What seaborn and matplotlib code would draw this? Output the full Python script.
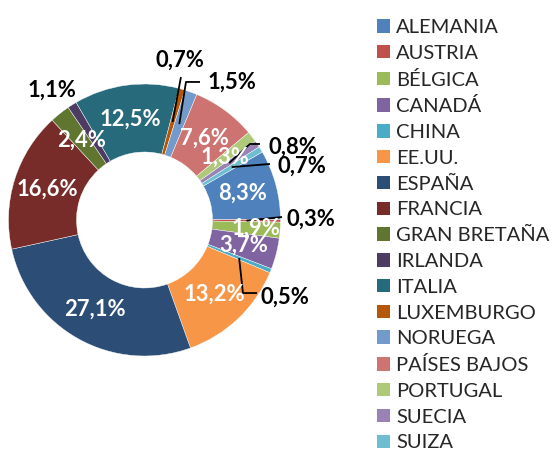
import numpy as np
import matplotlib
matplotlib.use("Agg")
import matplotlib.pyplot as plt
import seaborn as sns
from matplotlib.patches import Patch

# ---------------- data ----------------
categories = ["ALEMANIA", "AUSTRIA", "BÉLGICA", "CANADÁ", "CHINA", "EE.UU.",
              "ESPAÑA", "FRANCIA", "GRAN BRETAÑA", "IRLANDA", "ITALIA",
              "LUXEMBURGO", "NORUEGA", "PAÍSES BAJOS", "PORTUGAL", "SUECIA",
              "SUIZA"]
shares = [8.3, 0.3, 1.9, 3.7, 0.5, 13.2, 27.1, 16.6, 2.4, 1.1, 12.5,
          0.7, 1.5, 7.6, 1.3, 0.8, 0.7]
colors = ["#4F81BD", "#C0504D", "#9BBB59", "#8064A2", "#4BACC6", "#F79646",
          "#2C4D75", "#772C2A", "#5F7530", "#4D3B62", "#276A7C", "#B65708",
          "#729ACA", "#CD7371", "#AFC97A", "#9983B5", "#6FBDD1"]

# ---------------- layout of outside labels (axes units, radius = 1) -------
outside = {
    "LUXEMBURGO": ((0.261, 1.176), [(0.268, 1.051)]),
    "NORUEGA": ((0.643, 1.015), [(0.305, 1.015), (0.408, 1.015)]),
    "IRLANDA": ((-0.680, 0.956), []),
    "SUECIA": ((1.088, 0.537), [(0.776, 0.559), (0.849, 0.559)]),
    "SUIZA": ((1.158, 0.397), [(0.923, 0.412)]),
    "AUSTRIA": ((1.224, 0.007), [(1.011, 0.022)]),
    "CHINA": ((1.033, -0.566), [(0.724, -0.537), (0.827, -0.537)]),
}
inside_r = {"BÉLGICA": 0.82}

sns.set_theme(style="white")
plt.rcParams["font.family"] = ["Lato", "DejaVu Sans"]

W, H, DPI = 553, 450, 100
fig = plt.figure(figsize=(W / DPI, H / DPI), dpi=DPI)
cx, cy, R = 144.5, 220.0, 136.0
axw = 370
ax = fig.add_axes([0, 0, axw / W, 1])

pal = sns.color_palette(colors)
wedges, _ = ax.pie(shares, colors=pal, startangle=30, counterclock=False,
                   radius=1.0, wedgeprops=dict(width=0.5, linewidth=0.3,
                                               edgecolor="white"))
ax.set_xlim(-cx / R, (axw - cx) / R)
ax.set_ylim(-(H - cy) / R, cy / R)
ax.set_aspect("auto")
ax.axis("off")

lab_fs = 15.8
for w, name, v in zip(wedges, categories, shares):
    txt = f"{v:.1f}%".replace(".", ",")
    mid = np.deg2rad((w.theta1 + w.theta2) / 2)
    if name in outside:
        (lx, ly), pts = outside[name]
        if pts:
            start = (0.75 * np.cos(mid), 0.75 * np.sin(mid))
            xs = [start[0]] + [p[0] for p in pts]
            ys = [start[1]] + [p[1] for p in pts]
            ax.plot(xs, ys, color="black", lw=1.3, solid_capstyle="butt")
        ax.text(lx, ly, txt, ha="center", va="center", fontsize=lab_fs,
                fontweight="bold", color="black")
    else:
        r = inside_r.get(name, 0.75)
        ax.text(r * np.cos(mid), r * np.sin(mid), txt, ha="center",
                va="center", fontsize=lab_fs, fontweight="bold",
                color="white")

handles = [Patch(facecolor=c, edgecolor="none") for c in pal]
fig.legend(handles, categories, loc="upper left",
           bbox_to_anchor=(377 / W, 1 - 19 / H), frameon=False,
           fontsize=14.5, handlelength=0.65, handleheight=0.65,
           handletextpad=0.3, labelspacing=0.435, borderpad=0,
           borderaxespad=0)

fig.savefig("out.png", dpi=DPI)
